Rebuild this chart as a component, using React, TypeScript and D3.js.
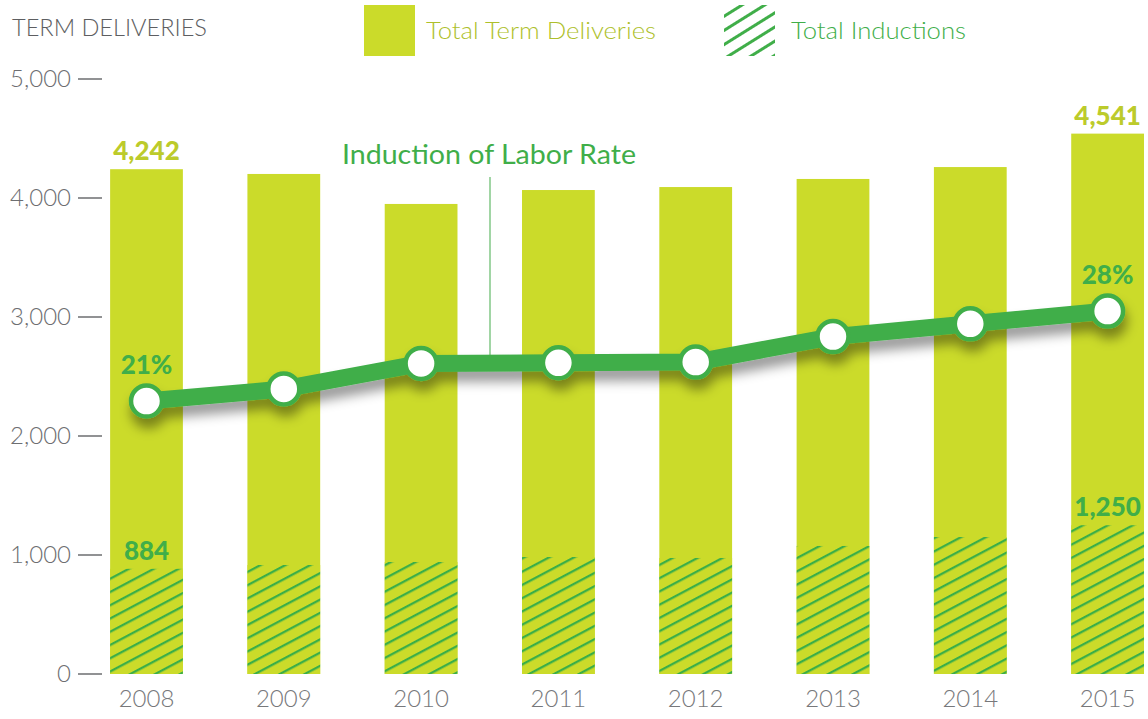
import React from "react";
import * as d3 from "d3";

const years = ["2008", "2009", "2010", "2011", "2012", "2013", "2014", "2015"];
const totalDeliveries = [4242, 4202, 3950, 4067, 4092, 4160, 4260, 4541];
const totalInductions = [884, 916, 941, 983, 975, 1076, 1151, 1250];
const inductionRate = [20.8, 21.7, 23.6, 23.65, 23.7, 25.6, 26.55, 27.5];
const yTicks = [0, 1000, 2000, 3000, 4000, 5000];

const W = 1148;
const H = 719;
const BAR = "#cbdb2a";
const GREEN = "#40ae49";
const LABEL_YG = "#bccb2b";
const GRAY = "#6d6e71";
const FONT = "Lato, 'Open Sans', sans-serif";

export default function App() {
  const step = 137.3;
  const x = d3
    .scaleBand<string>()
    .domain(years)
    .range([146.5 - step / 2, 146.5 - step / 2 + step * years.length])
    .paddingInner(0.47)
    .paddingOuter(0.235);
  const y = d3.scaleLinear().domain([0, 5000]).range([674, 79]);
  const r = d3.scaleLinear().domain([0, 40]).range([680.4, 143.2]);
  const bw = x.bandwidth();
  const cx = (yr: string) => (x(yr) as number) + bw / 2;

  const line = d3
    .line<number>()
    .x((_, i) => cx(years[i]))
    .y((v) => r(v));

  const last = years.length - 1;
  const fmt = d3.format(",");

  return (
    <div style={{ position: "absolute", left: 0, top: 0 }}>
      <svg width={W} height={H} style={{ display: "block" }}>
        <defs>
          <pattern
            id="hatch"
            patternUnits="userSpaceOnUse"
            width={10}
            height={11.7}
            patternTransform="rotate(-28)"
          >
            <rect x={0} y={0} width={10} height={11.7} fill={BAR} />
            <rect x={0} y={0} width={10} height={2.3} fill="#3aae48" />
          </pattern>
          <pattern
            id="hatchLegend"
            patternUnits="userSpaceOnUse"
            width={10}
            height={12}
            patternTransform="rotate(-32)"
          >
            <rect x={0} y={0} width={10} height={3} fill={GREEN} />
          </pattern>
          <filter id="shadow" x="-10%" y="-50%" width="120%" height="250%">
            <feDropShadow dx={2} dy={10} stdDeviation={6} floodColor="#000" floodOpacity={0.4} />
          </filter>
        </defs>

        {/* title */}
        <text
          x={12}
          y={36}
          fontFamily={FONT}
          fontWeight={300}
          fontSize={23}
          fill="#5d5e61"
          textLength={195}
          lengthAdjust="spacingAndGlyphs"
        >
          TERM DELIVERIES
        </text>

        {/* legend */}
        <rect x={364} y={5} width={51} height={51} fill={BAR} />
        <text
          x={426}
          y={39}
          fontFamily={FONT}
          fontWeight={300}
          fontSize={24}
          fill="#aebf2b"
          textLength={230}
          lengthAdjust="spacingAndGlyphs"
        >
          Total Term Deliveries
        </text>
        <rect x={724} y={5} width={51} height={51} fill="url(#hatchLegend)" />
        <text
          x={791}
          y={39}
          fontFamily={FONT}
          fontWeight={300}
          fontSize={24}
          fill={GREEN}
          textLength={175}
          lengthAdjust="spacingAndGlyphs"
        >
          Total Inductions
        </text>

        {/* y axis */}
        {yTicks.map((t) => (
          <g key={t}>
            <line x1={78} x2={102} y1={y(t)} y2={y(t)} stroke={GRAY} strokeWidth={1.5} />
            <text
              x={71}
              y={y(t)}
              dy="0.35em"
              textAnchor="end"
              fontFamily={FONT}
              fontWeight={300}
              fontSize={24}
              fill={GRAY}
            >
              {fmt(t)}
            </text>
          </g>
        ))}

        {/* bars */}
        {years.map((yr, i) => (
          <g key={yr}>
            <rect
              x={x(yr)}
              y={y(totalDeliveries[i])}
              width={bw}
              height={y(0) - y(totalDeliveries[i])}
              fill={BAR}
            />
            <rect
              x={x(yr)}
              y={y(totalInductions[i])}
              width={bw}
              height={y(0) - y(totalInductions[i])}
              fill="url(#hatch)"
            />
            <text
              x={cx(yr)}
              y={707}
              textAnchor="middle"
              fontFamily={FONT}
              fontWeight={300}
              fontSize={24}
              fill="#77787b"
            >
              {yr}
            </text>
          </g>
        ))}

        {/* bar value labels */}
        {[0, last].map((i) => (
          <g key={"lbl" + i}>
            <text
              x={cx(years[i])}
              y={y(totalDeliveries[i]) - 9}
              textAnchor="middle"
              fontFamily={FONT}
              fontWeight={900}
              fontSize={26}
              fill={LABEL_YG}
            >
              {fmt(totalDeliveries[i])}
            </text>
            <text
              x={cx(years[i])}
              y={y(totalInductions[i]) - 9}
              textAnchor="middle"
              fontFamily={FONT}
              fontWeight={900}
              fontSize={26}
              fill={GREEN}
            >
              {fmt(totalInductions[i])}
            </text>
          </g>
        ))}

        {/* annotation */}
        <text
          x={342}
          y={164}
          fontFamily={FONT}
          fontSize={26}
          fill={GREEN}
          textLength={294}
          lengthAdjust="spacingAndGlyphs"
        >
          Induction of Labor Rate
        </text>
        <line
          x1={490}
          x2={490}
          y1={177}
          y2={(r(inductionRate[2]) + r(inductionRate[3])) / 2}
          stroke="#6fbf74"
          strokeWidth={1.3}
        />

        {/* rate line */}
        <g filter="url(#shadow)">
          <path d={line(inductionRate) || ""} fill="none" stroke={GREEN} strokeWidth={17} strokeLinejoin="round" />
          {inductionRate.map((v, i) => (
            <circle key={i} cx={cx(years[i])} cy={r(v)} r={15.5} fill="#fff" stroke={GREEN} strokeWidth={4.5} />
          ))}
        </g>

        {[0, last].map((i) => (
          <text
            key={"rate" + i}
            x={cx(years[i])}
            y={r(inductionRate[i]) - 27}
            textAnchor="middle"
            fontFamily={FONT}
            fontWeight={900}
            fontSize={26}
            fill={GREEN}
          >
            {Math.round(inductionRate[i]) + "%"}
          </text>
        ))}
      </svg>
    </div>
  );
}
